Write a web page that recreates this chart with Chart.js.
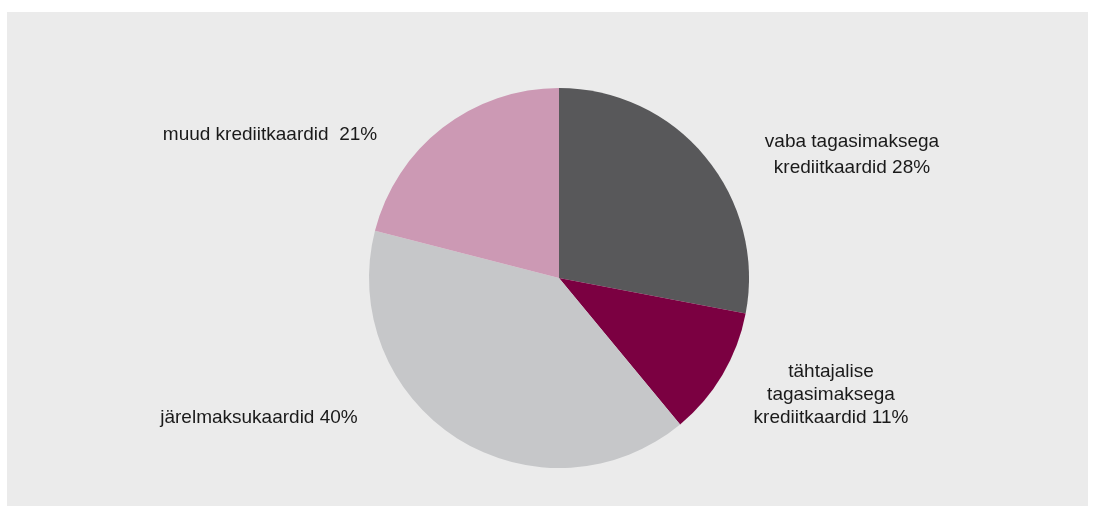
<!DOCTYPE html>
<html><head><meta charset="utf-8">
<script src="https://cdn.jsdelivr.net/npm/chart.js@4"></script>
<style>
html,body{margin:0;padding:0;background:#fff;width:1094px;height:513px;overflow:hidden;}
#panel{position:absolute;left:7px;top:12px;width:1081px;height:494px;background:#ebebeb;}
#wrap{position:absolute;left:0;top:0;width:1094px;height:513px;}
</style></head>
<body>
<div id="panel"></div>
<div id="wrap"><canvas id="c" width="1094" height="513"></canvas></div>
<script>
const categories = [
  ["vaba tagasimaksega", "krediitkaardid 28%"],
  ["tähtajalise", "tagasimaksega", "krediitkaardid 11%"],
  ["järelmaksukaardid 40%"],
  ["muud krediitkaardid  21%"]
];
const values = [28, 11, 40, 21];
const colors = ["#58585a", "#7b0041", "#c6c7c9", "#cc99b4"];

// label anchor offsets relative to pie centre (in px) and line heights
const labelPos = [
  {dx: 293, dy: -136, lh: 26},
  {dx: 272, dy: 94, lh: 23},
  {dx: -300, dy: 140, lh: 23},
  {dx: -289, dy: -143, lh: 23}
];

const labelPlugin = {
  id: 'labels',
  afterDraw(chart) {
    const arc = chart.getDatasetMeta(0).data[0];
    const cx = arc.x, cy = arc.y;
    const ctx = chart.ctx;
    ctx.save();
    ctx.font = '19px "Liberation Sans", Arial, Helvetica, sans-serif';
    ctx.fillStyle = '#1a1a1a';
    ctx.textAlign = 'center';
    ctx.textBaseline = 'middle';
    categories.forEach((lines, i) => {
      const p = labelPos[i];
      lines.forEach((t, j) => {
        ctx.fillText(t, cx + p.dx, cy + p.dy + j * p.lh);
      });
    });
    ctx.restore();
  }
};

new Chart(document.getElementById('c'), {
  type: 'pie',
  data: {
    labels: categories.map(l => l.join(' ')),
    datasets: [{
      data: values,
      backgroundColor: colors,
      borderColor: colors,
      borderWidth: 0
    }]
  },
  options: {
    responsive: false,
    animation: false,
    layout: {padding: {left: 369, right: 345, top: 88, bottom: 45}},
    plugins: {legend: {display: false}, tooltip: {enabled: false}}
  },
  plugins: [labelPlugin]
});
</script>
</body></html>
